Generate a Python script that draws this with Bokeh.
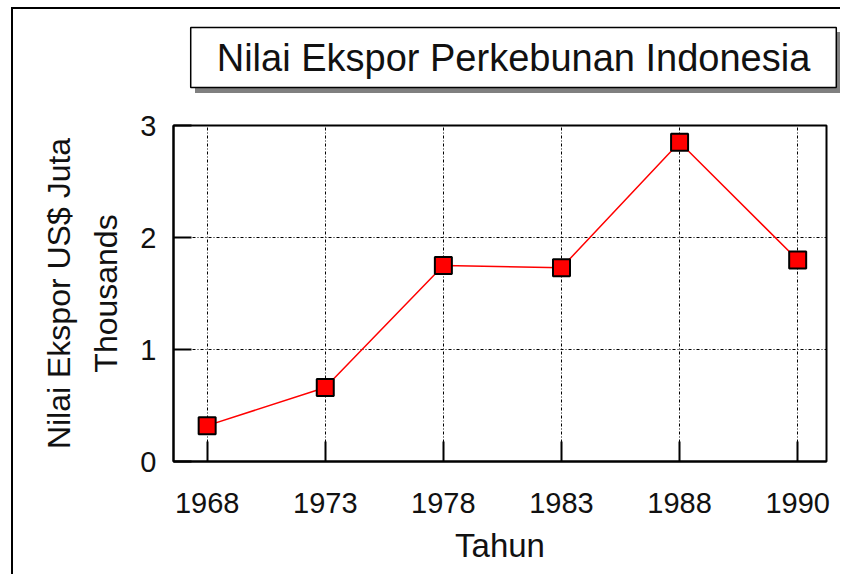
from bokeh.plotting import figure
from bokeh.models import Range1d, FixedTicker, LinearAxis, Label, ColumnDataSource
from bokeh.embed import file_html
from bokeh.resources import INLINE

# ---- data ----
years = ["1968", "1973", "1978", "1983", "1988", "1990"]
values = [0.32, 0.66, 1.75, 1.73, 2.85, 1.80]
y_ticks = [0, 1, 2, 3]
title_text = "Nilai Ekspor Perkebunan Indonesia"
x_label = "Tahun"
y_label_outer = "Nilai Ekspor US$ Juta"
y_label_inner = "Thousands"

FONT = "Liberation Sans"
TXT = "#111111"

idx = list(range(len(years)))
src = ColumnDataSource(data=dict(x=idx, y=values, year=years))

p = figure(width=840, height=574, output_backend="svg", toolbar_location=None,
           x_range=Range1d(-0.285, 5.244), y_range=Range1d(0, 3),
           min_border_left=173, min_border_right=14,
           min_border_top=125, min_border_bottom=113)
p.title.text = ""
p.background_fill_color = "white"
p.border_fill_color = None
p.outline_line_color = "black"
p.outline_line_width = 2
p.outline_line_alpha = 1
# outer page frame (left/top edges) and the title box's gray drop shadow,
# painted as the host element's background behind the transparent border area
p.styles = {
    "background": ", ".join([
        "linear-gradient(#808080,#808080) 837px 32px / 5px 61px no-repeat",
        "linear-gradient(#808080,#808080) 195px 88px / 647px 5px no-repeat",
        "linear-gradient(#000,#000) 11px 7px / 2px 100% no-repeat",
        "linear-gradient(#000,#000) 11px 7px / 100% 2px no-repeat",
        "#fff",
    ])
}

# axes
p.xaxis.ticker = FixedTicker(ticks=idx)
p.xaxis.major_label_overrides = {i: y for i, y in zip(idx, years)}
p.yaxis.ticker = FixedTicker(ticks=y_ticks)
for ax in (p.xaxis, p.yaxis):
    ax.axis_line_color = "black"
    ax.axis_line_width = 2
    ax.major_tick_line_color = "black"
    ax.major_tick_line_width = 2
    ax.major_tick_out = 0
    ax.minor_tick_line_color = None
    ax.major_label_text_font = FONT
    ax.major_label_text_font_size = "29px"
    ax.major_label_text_color = TXT
    ax.axis_label_text_font = FONT
    ax.axis_label_text_font_size = "32px"
    ax.axis_label_text_font_style = "normal"
    ax.axis_label_text_color = TXT
p.xaxis.major_tick_in = 20
p.yaxis.major_tick_in = 18
p.xaxis.major_label_standoff = 31
p.yaxis.major_label_standoff = 17
p.xaxis.axis_label = x_label
p.xaxis.axis_label_text_font_size = "33px"
p.xaxis.axis_label_standoff = 11
p.yaxis.axis_label = y_label_inner
p.yaxis.axis_label_standoff = 13

ax2 = LinearAxis(axis_label=y_label_outer, ticker=FixedTicker(ticks=[]),
                 axis_line_color=None, major_tick_line_color=None,
                 minor_tick_line_color=None, major_label_text_font_size="0px",
                 axis_label_text_font=FONT, axis_label_text_font_size="32px",
                 axis_label_text_font_style="normal", axis_label_text_color=TXT,
                 axis_label_standoff=9)
p.add_layout(ax2, "left")

# grid
p.xgrid.ticker = FixedTicker(ticks=idx)
p.ygrid.ticker = FixedTicker(ticks=y_ticks)
for g in (p.xgrid, p.ygrid):
    g.grid_line_color = "black"
    g.grid_line_alpha = 1
    g.grid_line_width = 1
    g.grid_line_dash = "1 2 3 2"

# data
p.line("x", "y", source=src, line_color="#ff0000", line_width=1.5)
p.scatter("x", "y", source=src, marker="square", size=17,
          fill_color="#ff0000", line_color="black", line_width=2)

# boxed title in the "above" panel
p.add_layout(Label(x=340, y=68, x_units="screen", y_units="screen",
                   text=title_text, text_font=FONT, text_font_size="38px",
                   text_color=TXT, text_align="center", text_baseline="middle",
                   background_fill_color="white", background_fill_alpha=1,
                   border_line_color="black", border_line_width=1.5,
                   padding=(26, 9)), "above")

open("out.html", "w").write(file_html(p, INLINE))
